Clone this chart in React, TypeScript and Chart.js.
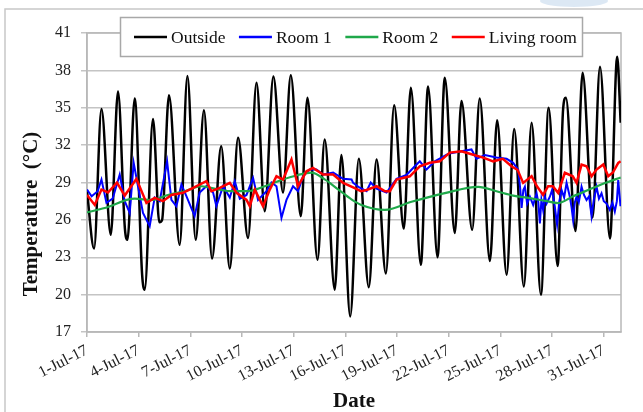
import React, { useEffect, useRef } from 'react';
import { Chart, registerables } from 'chart.js';

Chart.register(...registerables);

const FONT = "'Liberation Serif', 'Times New Roman', serif";

// x values are days since 1-Jul-2017 00:00
const xTickLabels = ['1-Jul-17', '4-Jul-17', '7-Jul-17', '10-Jul-17', '13-Jul-17', '16-Jul-17', '19-Jul-17', '22-Jul-17', '25-Jul-17', '28-Jul-17', '31-Jul-17'];
const seriesNames = ['Outside', 'Room 1', 'Room 2', 'Living room'];
const seriesColors = ['#000000', '#0000ff', '#1fa84a', '#ff0000'];

const outsideDays = [0, 0.41, 0.84, 1.38, 1.80, 2.2, 2.35, 2.77, 3.2, 3.35, 3.83, 4.2, 4.36, 4.76, 5.38, 5.83, 6.31, 6.79, 7.26, 7.79, 8.29, 8.77, 9.35, 9.84, 10.32, 10.82, 11.38, 11.83, 12.41, 12.8, 13.38, 13.8, 14.38, 14.77, 15.28, 15.78, 16.36, 16.81, 17.35, 17.83, 18.39, 18.8, 19.38, 19.8, 20.35, 20.77, 21.35, 21.74, 22.36, 22.8, 23.39, 23.81, 24.36, 24.8, 25.36, 25.81, 26.35, 26.8, 27.32, 27.64, 27.8, 28.36, 28.77, 29.35, 29.78, 30.36, 30.78, 30.98];
const outsideTemps = [28.3, 23.7, 34.9, 24.8, 36.3, 25.3, 24.4, 35.75, 21.6, 20.4, 34.1, 25.8, 26.0, 36.0, 24.0, 37.55, 24.4, 34.8, 22.9, 31.9, 22.1, 32.6, 24.55, 37.0, 26.7, 37.5, 28.2, 37.6, 26.3, 35.8, 22.8, 32.45, 20.4, 31.2, 18.25, 30.9, 20.6, 30.85, 21.7, 35.2, 25.3, 36.6, 22.4, 36.7, 23.0, 37.4, 24.95, 35.55, 25.2, 35.75, 22.7, 34.0, 21.6, 33.3, 20.65, 33.8, 20.0, 35.0, 22.3, 34.9, 35.8, 25.1, 37.8, 26.2, 38.3, 24.5, 39.1, 33.8];

const room1Days = [0, 0.27, 0.62, 0.84, 1.13, 1.49, 1.9, 2.19, 2.48, 2.71, 2.96, 3.25, 3.64, 3.93, 4.22, 4.65, 4.9, 5.19, 5.48, 5.77, 6.25, 6.54, 6.93, 7.32, 7.51, 7.9, 8.29, 8.58, 8.87, 9.26, 9.64, 9.93, 10.42, 10.71, 11.0, 11.29, 11.58, 11.96, 12.25, 12.54, 12.93, 13.32, 13.71, 14.29, 14.87, 15.36, 15.45, 15.81, 16.23, 16.47, 16.81, 17.39, 17.97, 18.54, 19.03, 19.32, 19.71, 20.19, 20.96, 21.74, 22.32, 22.61, 23.1, 23.77, 24.36, 24.74, 25.03, 25.15, 25.23, 25.33, 25.42, 25.55, 25.71, 25.9, 26.1, 26.2, 26.29, 26.38, 26.48, 26.58, 26.68, 26.87, 27.0, 27.16, 27.29, 27.42, 27.55, 27.7, 27.84, 28.03, 28.13, 28.22, 28.32, 28.42, 28.55, 28.71, 28.85, 29.0, 29.15, 29.29, 29.42, 29.58, 29.72, 29.87, 30.0, 30.16, 30.35, 30.5, 30.64, 30.76, 30.84, 30.97];
const room1Temps = [28.43, 27.9, 28.3, 29.24, 27.36, 27.7, 29.64, 27.5, 26.56, 30.58, 28.7, 26.56, 25.5, 27.8, 27.5, 30.7, 27.6, 27.1, 28.84, 27.9, 26.3, 28.2, 28.7, 28.2, 27.1, 28.7, 27.8, 29.1, 27.7, 28.0, 29.37, 27.6, 28.3, 29.0, 28.7, 26.16, 27.6, 28.7, 28.3, 29.5, 30.04, 30.04, 29.64, 29.8, 29.3, 29.24, 28.97, 28.6, 28.3, 29.0, 28.5, 28.2, 29.3, 29.6, 30.3, 30.7, 30.04, 30.7, 31.3, 31.5, 31.65, 30.9, 31.2, 31.0, 30.9, 30.58, 30.04, 28.5, 26.96, 28.4, 28.66, 27.3, 27.86, 27.2, 28.13, 27.4, 25.71, 27.6, 26.78, 27.9, 27.32, 27.86, 28.4, 27.05, 25.6, 27.5, 28.39, 27.8, 28.97, 27.86, 27.0, 26.0, 27.4, 27.86, 27.4, 28.66, 28.0, 27.59, 27.9, 26.3, 27.6, 28.66, 27.7, 28.13, 27.5, 27.32, 26.8, 27.4, 26.66, 27.5, 29.2, 27.1];

const room2Days = [0, 1.03, 2.77, 3.74, 4.7, 5.67, 6.64, 7.61, 8.39, 9.33, 10.32, 11.29, 12.25, 13.03, 13.8, 14.58, 15.35, 15.93, 17.29, 18.84, 20.77, 22.71, 23.77, 24.74, 25.71, 26.68, 27.35, 28.22, 29.19, 30.16, 30.98];
const room2Temps = [26.6, 26.95, 27.7, 27.6, 28.0, 28.3, 28.7, 28.45, 28.3, 28.3, 28.7, 29.2, 29.6, 29.8, 29.25, 28.45, 27.65, 27.2, 26.8, 27.45, 28.15, 28.65, 28.3, 27.95, 27.75, 27.5, 27.35, 27.9, 28.45, 29.0, 29.4];

const livingDays = [0, 0.45, 0.84, 1.22, 1.74, 2.19, 2.87, 3.45, 3.93, 4.41, 4.9, 5.57, 6.16, 6.93, 7.22, 7.71, 8.29, 8.68, 9.26, 9.45, 9.74, 10.22, 10.61, 11.0, 11.38, 11.87, 12.25, 12.74, 13.12, 13.71, 14.29, 14.87, 15.45, 15.9, 16.23, 16.81, 17.3, 17.58, 17.97, 18.74, 19.32, 19.9, 20.48, 21.06, 21.74, 22.37, 23.0, 23.58, 24.14, 24.64, 25.0, 25.32, 25.81, 26.12, 26.48, 26.77, 27.04, 27.35, 27.74, 28.2, 28.42, 28.71, 29.0, 29.29, 29.58, 29.97, 30.26, 30.53, 30.84, 30.98];
const livingTemps = [28.0, 27.2, 28.43, 28.2, 29.0, 27.95, 29.3, 27.36, 27.76, 27.5, 28.0, 28.17, 28.57, 29.1, 28.3, 28.57, 28.97, 28.17, 27.6, 27.1, 28.43, 27.1, 28.43, 29.5, 29.24, 30.85, 28.7, 29.9, 30.17, 29.64, 29.64, 28.97, 28.6, 28.3, 28.4, 28.7, 28.3, 28.3, 29.24, 29.5, 30.3, 30.58, 30.7, 31.4, 31.5, 31.25, 31.0, 30.7, 30.9, 30.3, 30.0, 28.97, 29.5, 28.7, 28.0, 28.7, 28.7, 28.17, 29.78, 29.5, 28.97, 30.44, 30.3, 29.5, 30.04, 30.44, 29.5, 29.8, 30.58, 30.7];

const yTitle = 'Temperature  (°C)';
const xTitle = 'Date';

const toPoints = (xs: number[], ys: number[]) => xs.map((x, i) => ({ x, y: ys[i] }));

const decorPlugin = {
  id: 'decor',
  beforeDraw(chart: any) {
    const ctx = chart.ctx;
    ctx.save();
    ctx.fillStyle = '#ffffff';
    ctx.fillRect(0, 0, chart.width, chart.height);
    ctx.fillStyle = 'rgba(205,222,240,0.7)';
    ctx.beginPath();
    ctx.ellipse(574, 1, 34, 6, 0, 0, Math.PI * 2);
    ctx.fill();
    ctx.strokeStyle = '#c8c8c8';
    ctx.lineWidth = 1.5;
    ctx.strokeRect(5, 9, chart.width + 10, chart.height + 10);
    ctx.restore();
  },
  beforeDatasetsDraw(chart: any) {
    const { left, top, right, bottom } = chart.chartArea;
    const ctx = chart.ctx;
    ctx.save();
    ctx.strokeStyle = '#b8b8b8';
    ctx.lineWidth = 1.5;
    ctx.strokeRect(left, top, right - left, bottom - top);
    ctx.restore();
  },
  afterDraw(chart: any) {
    const ctx = chart.ctx;
    const { left, right } = chart.chartArea;
    ctx.save();
    // legend box
    ctx.fillStyle = '#ffffff';
    ctx.fillRect(120.5, 17.5, 462, 39);
    ctx.strokeStyle = '#a8a8a8';
    ctx.lineWidth = 1.5;
    ctx.strokeRect(120.5, 17.5, 462, 39);
    ctx.font = `17.5px ${FONT}`;
    ctx.textBaseline = 'middle';
    ctx.textAlign = 'left';
    let x = 134;
    const y = 37;
    seriesNames.forEach((name, i) => {
      ctx.strokeStyle = seriesColors[i];
      ctx.lineWidth = 2.5;
      ctx.beginPath();
      ctx.moveTo(x, y);
      ctx.lineTo(x + 33, y);
      ctx.stroke();
      ctx.fillStyle = '#111111';
      ctx.fillText(name, x + 37, y + 1);
      x = x + 37 + ctx.measureText(name).width + 13.5;
    });
    // axis titles
    ctx.font = `bold 21px ${FONT}`;
    ctx.fillStyle = '#111111';
    ctx.textAlign = 'center';
    ctx.textBaseline = 'alphabetic';
    ctx.fillText(xTitle, (left + right) / 2, 407);
    ctx.translate(37, 214);
    ctx.rotate(-Math.PI / 2);
    ctx.fillText(yTitle, 0, 0);
    ctx.restore();
  },
};

export default function App() {
  const canvasRef = useRef<HTMLCanvasElement | null>(null);

  useEffect(() => {
    if (!canvasRef.current) return;
    const datasets = [
      { label: seriesNames[0], data: toPoints(outsideDays, outsideTemps), borderColor: seriesColors[0], borderWidth: 2.5, cubicInterpolationMode: 'monotone' as const, order: 4 },
      { label: seriesNames[1], data: toPoints(room1Days, room1Temps), borderColor: seriesColors[1], borderWidth: 2, tension: 0, order: 3 },
      { label: seriesNames[2], data: toPoints(room2Days, room2Temps), borderColor: seriesColors[2], borderWidth: 2.2, cubicInterpolationMode: 'monotone' as const, order: 2 },
      { label: seriesNames[3], data: toPoints(livingDays, livingTemps), borderColor: seriesColors[3], borderWidth: 2.5, tension: 0, order: 1 },
    ];
    const chart = new Chart(canvasRef.current, {
      type: 'line',
      data: { datasets: datasets as any },
      options: {
        animation: false,
        responsive: false,
        devicePixelRatio: 1,
        layout: { padding: { top: 33, right: 22, left: 0, bottom: 0 } },
        elements: { point: { radius: 0 }, line: { fill: false } },
        plugins: { legend: { display: false }, tooltip: { enabled: false } },
        scales: {
          x: {
            type: 'linear',
            min: 0,
            max: 31,
            afterFit: (s: any) => { s.height = 80; },
            border: { color: '#b8b8b8', width: 1.5 },
            grid: { drawOnChartArea: false, drawTicks: true, tickLength: 5, color: '#b8b8b8', lineWidth: 1.5 },
            ticks: {
              stepSize: 3,
              includeBounds: false,
              autoSkip: false,
              maxRotation: 27,
              minRotation: 27,
              padding: 4,
              color: '#222222',
              font: { size: 16, family: FONT },
              callback: (v: any) => xTickLabels[Math.round(Number(v) / 3)] ?? '',
            },
          },
          y: {
            min: 17,
            max: 41,
            afterFit: (s: any) => { s.width = 87; },
            border: { color: '#b8b8b8', width: 1.5 },
            grid: { color: '#c4c4c4', lineWidth: 1.5, tickLength: 6 },
            ticks: { stepSize: 3, padding: 10, color: '#222222', font: { size: 16, family: FONT } },
          },
        },
      } as any,
      plugins: [decorPlugin],
    });
    return () => chart.destroy();
  }, []);

  return (
    <div style={{ position: 'fixed', left: 0, top: 0, width: 643, height: 412, background: '#ffffff' }}>
      <canvas ref={canvasRef} width={643} height={412} style={{ display: 'block', width: 643, height: 412 }} />
    </div>
  );
}
